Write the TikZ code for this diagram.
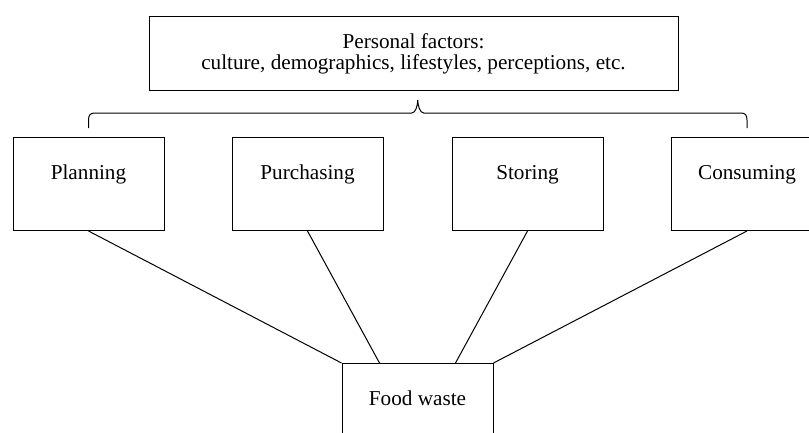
\documentclass[tikz,border=0pt]{standalone}
\usepackage{fontspec}
\setmainfont{Liberation Serif}
\usetikzlibrary{calc}
\begin{document}
\begin{tikzpicture}[x=1pt,y=-1pt,
  every node/.style={font=\fontsize{21.2}{22}\selectfont},
  stagebox/.style={draw, line width=1pt, minimum width=151pt, inner xsep=0pt, inner ysep=0pt,
    text height=42pt, text depth=51pt, anchor=north},
  topbox/.style={draw, line width=1pt, minimum width=529pt, minimum height=74pt, align=center, inner sep=0pt, anchor=north},
  link/.style={line width=1pt},
  bracestyle/.style={line width=1pt}]
\useasboundingbox (0,0) rectangle (809,432);
\node[topbox] (factors) at (413.5,16) {Personal factors:\\[-1pt]culture, demographics, lifestyles, perceptions, etc.};
\node[stagebox] (plan) at (88.5,137) {Planning};
\node[stagebox] (purchase) at (307.5,137) {Purchasing};
\node[stagebox] (store) at (527.5,137) {Storing};
\node[stagebox] (consume) at (747,137) {Consuming};
\node[stagebox] (food) at (417.5,363) {Food waste};
\coordinate (bl) at ([yshift=9pt]plan.north);
\coordinate (br) at ([yshift=9pt]consume.north);
\coordinate (tip) at ($(bl)!0.5!(br)+(0,-28)$);
\draw[bracestyle] (bl) -- ++(0,-8) .. controls +(0,-5) and +(-4,0) .. ++(6,-7)
  -- ($(tip)+(-6,13)$) .. controls +(4,0) and +(0,5) .. (tip)
  .. controls +(0,5) and +(-4,0) .. ($(tip)+(6,13)$)
  -- ($(br)+(-6,-15)$) .. controls +(4,0) and +(0,-5) .. ($(br)+(0,-8)$) -- (br);
\draw[link] (plan.south) -- (food.north west);
\draw[link] (purchase.south) -- ($(food.north west)!0.25!(food.north east)$);
\draw[link] (store.south) -- ($(food.north west)!0.75!(food.north east)$);
\draw[link] (consume.south) -- (food.north east);
\end{tikzpicture}
\end{document}
